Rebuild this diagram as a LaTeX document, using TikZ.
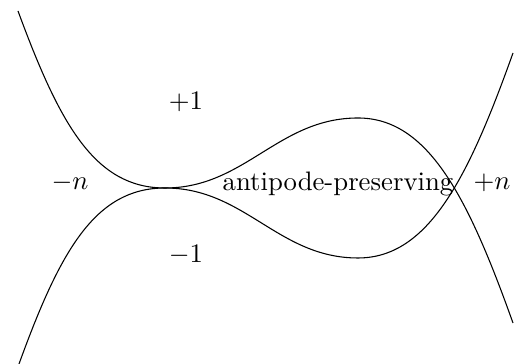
\documentclass[tikz,border=0pt]{standalone}
\begin{document}
\begin{tikzpicture}[x=0.374pt,y=-0.374pt,
  curve/.style={line width=0.4pt},
  lbl/.style={inner sep=0pt}]
\useasboundingbox (0,0) rectangle (531,364);
\draw[curve] (18,11) .. controls (60,125) and (95,188) .. (165,188)
  .. controls (245,188) and (278,118) .. (358,118)
  .. controls (428,118) and (468,197) .. (513,323);
\draw[curve] (19,364) .. controls (60,251) and (95,188) .. (165,188)
  .. controls (245,188) and (278,258) .. (358,258)
  .. controls (428,258) and (468,179) .. (513,53);
\node[lbl] (mn) at (70,183) {$-n$};
\node[lbl] (p1) at (186,102) {$+1$};
\node[lbl] (m1) at (186,255) {$-1$};
\node[lbl] (ap) at (338,184) {antipode-preserving};
\node[lbl] (pn) at (492,183) {$+n$};
\end{tikzpicture}
\end{document}
